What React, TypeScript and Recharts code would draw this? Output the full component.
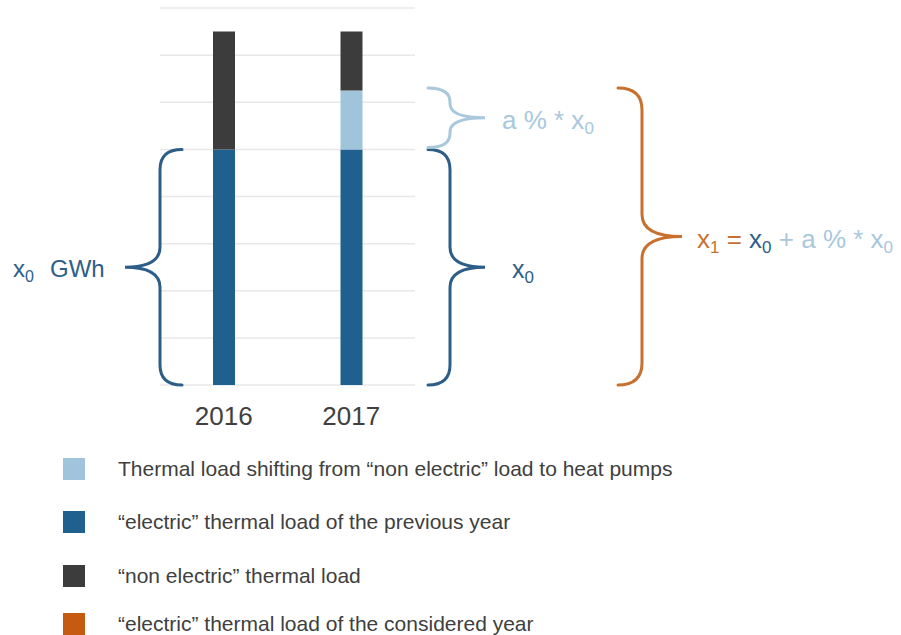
import { BarChart, Bar, XAxis, YAxis, CartesianGrid } from "recharts";

const years = ["2016", "2017"];
const electricPrev = [5, 5];
const shifted = [0, 1.25];
const nonElectric = [2.5, 1.25];
const yTicks = [0, 1, 2, 3, 4, 5, 6, 7, 8];

const legendLabels = [
  "Thermal load shifting from \u201cnon electric\u201d load to heat pumps",
  "\u201celectric\u201d thermal load of the previous year",
  "\u201cnon electric\u201d thermal load",
  "\u201celectric\u201d thermal load of the considered year",
];
const legendColors = ["#a0c4dc", "#20608f", "#3c3c3c", "#c55a11"];

const data = years.map((year, i) => ({
  year,
  electricPrev: electricPrev[i],
  shifted: shifted[i],
  nonElectric: nonElectric[i],
}));

const W = 901;
const H = 440;
const M = { top: 8, right: 486, bottom: 15, left: 160 };
const AXIS_H = 40;
const Y_MAX = 8;
const plotH = H - M.top - M.bottom - AXIS_H;
// same linear map the y axis uses, for placing the braces
const yOf = (v: number) => M.top + plotH * (1 - v / Y_MAX);

const FONT = "'Liberation Sans', Arial, sans-serif";
const DARK = "#2d5e88";
const LIGHT = "#a9c8dc";
const ORANGE = "#c8712e";

function brace(end: number, spine: number, tip: number, top: number, bottom: number, r: number) {
  const mid = (top + bottom) / 2;
  return `M${end},${top} Q${spine},${top} ${spine},${top + r} L${spine},${mid - r} Q${spine},${mid} ${tip},${mid} Q${spine},${mid} ${spine},${mid + r} L${spine},${bottom - r} Q${spine},${bottom} ${end},${bottom}`;
}

function YearTick(props: any) {
  return (
    <text x={props.x} y={props.y + 40} textAnchor="middle" fontSize={26} fill="#404040" fontFamily={FONT}>
      {props.payload.value}
    </text>
  );
}

function Braces() {
  const top5 = yOf(5);
  const bot = yOf(0);
  const topShift = yOf(6.3);
  return (
    <svg width={W} height={H} style={{ position: "absolute", left: 0, top: 0, pointerEvents: "none" }}>
      <g fill="none" strokeWidth={3} strokeLinecap="round">
        <path d={brace(182, 160, 125, top5, bot, 20)} stroke={DARK} />
        <path d={brace(428, 450, 485, top5, bot, 20)} stroke={DARK} />
        <path d={brace(428, 450, 485, topShift, top5 - 2, 14)} stroke={LIGHT} />
        <path d={brace(618, 642, 682, topShift, bot, 22)} stroke={ORANGE} />
      </g>
      <g fontFamily={FONT}>
        <text x={13} y={277} fill={DARK} fontSize={24}>
          x<tspan dy={5} fontSize={16}>0</tspan>
          <tspan x={50} dy={-5}>GWh</tspan>
        </text>
        <text x={512} y={278} fill={DARK} fontSize={25}>
          x<tspan dy={5} fontSize={17}>0</tspan>
        </text>
        <text x={502} y={129} fill={LIGHT} fontSize={26}>
          a % * x<tspan dy={5} fontSize={17}>0</tspan>
        </text>
        <text x={697} y={248} fill={ORANGE} fontSize={26}>
          x<tspan dy={5} fontSize={17}>1</tspan>
          <tspan dy={-5}> = </tspan>
          <tspan fill={DARK}>x</tspan>
          <tspan dy={5} fontSize={17} fill={DARK}>0</tspan>
          <tspan dy={-5} fill={LIGHT}> + a % * x</tspan>
          <tspan dy={5} fontSize={17} fill={LIGHT}>0</tspan>
        </text>
      </g>
    </svg>
  );
}

const legendRows = [469, 522, 576, 624];

export default function App() {
  return (
    <div style={{ position: "absolute", left: 0, top: 0, width: W, height: 635, background: "#fff", overflow: "hidden" }}>
      <BarChart width={W} height={H} data={data} margin={M} barSize={22}>
        <CartesianGrid vertical={false} stroke="#e8e8e8" strokeWidth={1.5} />
        <XAxis
          dataKey="year"
          axisLine={false}
          tickLine={false}
          tickSize={0}
          tickMargin={0}
          height={AXIS_H}
          tick={<YearTick />}
        />
        <YAxis hide domain={[0, Y_MAX]} ticks={yTicks} />
        <Bar dataKey="electricPrev" stackId="a" fill={legendColors[1]} isAnimationActive={false} />
        <Bar dataKey="shifted" stackId="a" fill={legendColors[0]} isAnimationActive={false} />
        <Bar dataKey="nonElectric" stackId="a" fill={legendColors[2]} isAnimationActive={false} />
      </BarChart>
      <Braces />
      {legendLabels.map((label, i) => (
        <div key={label}>
          <div
            style={{
              position: "absolute",
              left: 63,
              top: legendRows[i] - 11,
              width: 22,
              height: 22,
              background: legendColors[i],
            }}
          />
          <div
            style={{
              position: "absolute",
              left: 118,
              top: legendRows[i] - 14,
              fontFamily: FONT,
              fontSize: 21,
              lineHeight: "27px",
              color: "#404040",
              whiteSpace: "nowrap",
            }}
          >
            {label}
          </div>
        </div>
      ))}
    </div>
  );
}
